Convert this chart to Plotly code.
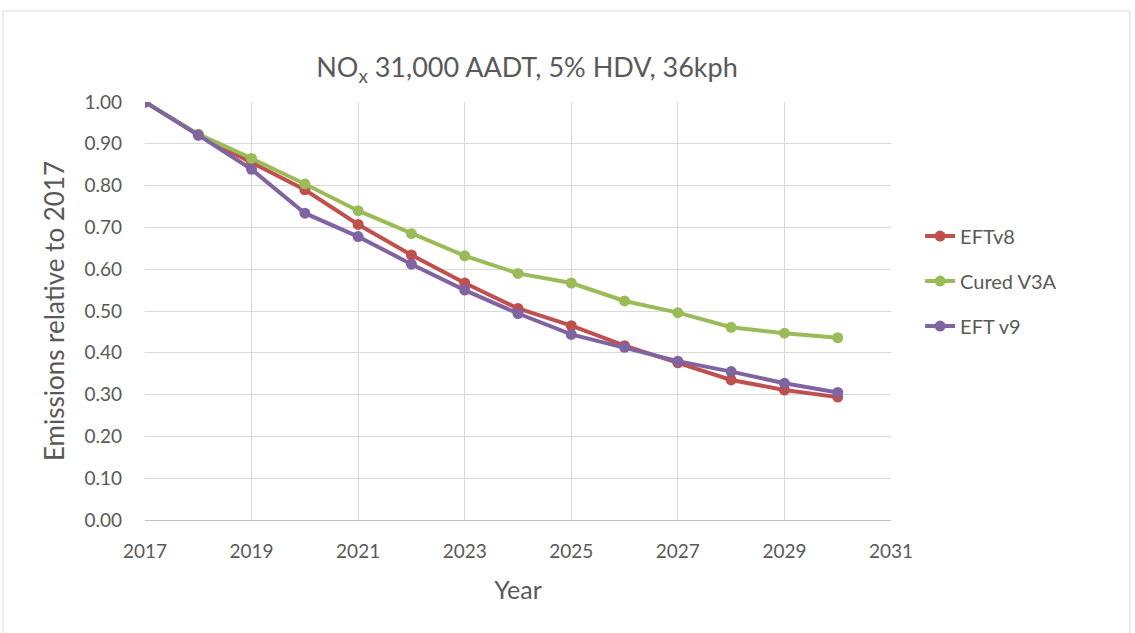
import plotly.graph_objects as go

years = [2017, 2018, 2019, 2020, 2021, 2022, 2023, 2024, 2025, 2026, 2027, 2028, 2029, 2030]
eftv8 = [1.00, 0.921, 0.855, 0.790, 0.707, 0.634, 0.567, 0.506, 0.465, 0.417, 0.376, 0.335, 0.311, 0.294]
cured_v3a = [1.00, 0.923, 0.865, 0.804, 0.740, 0.685, 0.632, 0.590, 0.567, 0.524, 0.496, 0.461, 0.447, 0.436]
eft_v9 = [1.00, 0.921, 0.839, 0.734, 0.678, 0.612, 0.550, 0.494, 0.444, 0.413, 0.380, 0.355, 0.327, 0.305]

series = [
    ("EFTv8", eftv8, "#C0504D"),
    ("Cured V3A", cured_v3a, "#9BBB59"),
    ("EFT v9", eft_v9, "#8064A2"),
]

fig = go.Figure()
for i, (name, vals, color) in enumerate(series):
    fig.add_trace(go.Scatter(
        x=years, y=vals, name=name, mode="lines+markers",
        line=dict(color=color, width=4),
        marker=dict(color=color, size=11),
        legendgroup=f"g{i}",
    ))

font_family = "Lato, 'Open Sans', sans-serif"
fig.update_layout(
    width=1135, height=633,
    margin=dict(l=145, r=244, t=102, b=113),
    paper_bgcolor="white", plot_bgcolor="white",
    font=dict(family=font_family, color="#595959", size=19),
    title=dict(text="NO<sub>x</sub> 31,000 AADT, 5% HDV, 36kph",
               x=0.512, xref="paper", xanchor="center", y=1 - 68 / 633, yref="container",
               yanchor="middle", font=dict(size=27, color="#595959")),
    showlegend=True,
    legend=dict(x=1.039, xanchor="left", y=0.726, yanchor="top",
                font=dict(size=20, color="#595959"), tracegroupgap=16,
                bgcolor="rgba(0,0,0,0)"),
    xaxis=dict(range=[2017, 2031], dtick=2, tick0=2017, showgrid=True,
               gridcolor="#d9d9d9", gridwidth=1, showline=True, linecolor="#bfbfbf",
               zeroline=False, ticks="", ticklabelstandoff=14,
               title=dict(text="Year", font=dict(size=25), standoff=20),
               tickfont=dict(size=19)),
    yaxis=dict(range=[0, 1.0], dtick=0.1, tickformat=".2f", showgrid=True,
               gridcolor="#d9d9d9", gridwidth=1, showline=False, zeroline=False,
               ticks="", ticklabelstandoff=22,
               title=dict(text="Emissions relative to 2017", font=dict(size=26), standoff=12),
               tickfont=dict(size=19)),
)
fig.add_shape(type="rect", xref="paper", yref="paper",
              x0=-142 / 746, x1=1.32, y0=-1.2, y1=(520 - 11) / 418,
              line=dict(color="#d9d9d9", width=1), fillcolor="rgba(0,0,0,0)", layer="below")

fig.write_html("out.html", config={"displayModeBar": False},
               post_script="document.body.style.margin='0px';")
